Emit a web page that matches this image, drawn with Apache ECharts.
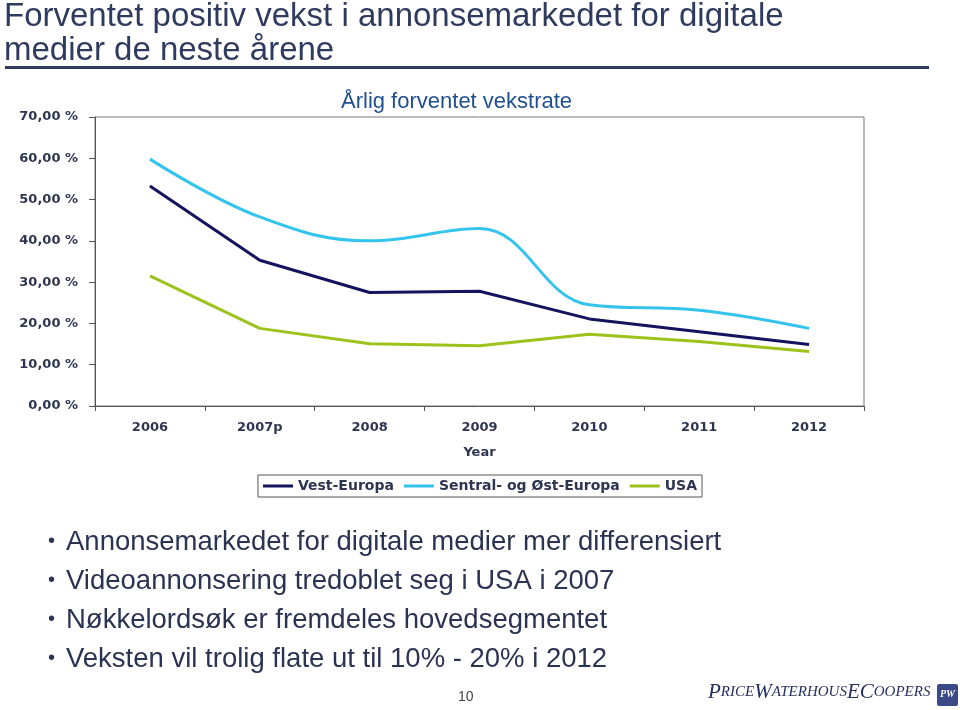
<!DOCTYPE html>
<html>
<head>
<meta charset="utf-8">
<script src="https://cdn.jsdelivr.net/npm/echarts@6/dist/echarts.min.js"></script>
<style>
html,body{margin:0;padding:0;background:#fff;}
#chart{width:960px;height:710px;}
</style>
</head>
<body>
<div id="chart"></div>
<script>
// ---- data ----
const years = ['2006', '2007p', '2008', '2009', '2010', '2011', '2012'];
const vestEuropa = [53.3, 35.3, 27.5, 27.8, 21.1, 18.0, 14.9];
const sentralOstEuropa = [59.8, 45.8, 40.0, 43.0, 24.5, 23.2, 18.8];
const usa = [31.5, 18.8, 15.1, 14.6, 17.4, 15.6, 13.2];
const seriesNames = ['Vest-Europa', 'Sentral- og Øst-Europa', 'USA'];
const yTicks = [0, 10, 20, 30, 40, 50, 60, 70];

const titleLines = ['Forventet positiv vekst i annonsemarkedet for digitale', 'medier de neste årene'];
const chartTitle = 'Årlig forventet vekstrate';
const bullets = [
  'Annonsemarkedet for digitale medier mer differensiert',
  'Videoannonsering tredoblet seg i USA i 2007',
  'Nøkkelordsøk er fremdeles hovedsegmentet',
  'Veksten vil trolig flate ut til 10% - 20% i 2012'
];
const pageNumber = '10';

const chart = echarts.init(document.getElementById('chart'));
const axisFont = 'DejaVu Sans';
const labelColor = '#2e3550';

const graphics = [];
titleLines.forEach((t, i) => {
  graphics.push({type: 'text', left: 4, top: 0 + i * 34, style: {text: t, font: '33px "Liberation Sans", Arial, sans-serif', fill: '#2f3a5f'}});
});
graphics.push({type: 'rect', shape: {x: 5, y: 66, width: 924, height: 3}, style: {fill: '#2f3a5f'}});
bullets.forEach((t, i) => {
  const y = 528 + i * 39.3;
  graphics.push({type: 'text', left: 48, top: y + 3, style: {text: '•', font: '20px "Liberation Sans", Arial, sans-serif', fill: '#2b3352'}});
  graphics.push({type: 'text', left: 66, top: y, style: {text: t, font: '27.5px "Liberation Sans", Arial, sans-serif', fill: '#2b3352'}});
});
graphics.push({type: 'text', left: 458, top: 690, style: {text: pageNumber, font: '14px "Liberation Sans", Arial, sans-serif', fill: '#444'}});
graphics.push({type: 'text', left: 708, top: 682, style: {
  text: '{a|P}{b|RICE}{a|W}{b|ATERHOUS}{a|E}{a|C}{b|OOPERS}',
  rich: {
    a: {font: 'italic 21px "Liberation Serif", serif', fill: '#25305e'},
    b: {font: 'italic 15px "Liberation Serif", serif', fill: '#25305e'}
  }
}});
graphics.push({type: 'rect', shape: {x: 937, y: 684, width: 21, height: 22, r: 2}, style: {fill: '#3a4a86'}});
graphics.push({type: 'text', left: 940, top: 689, style: {text: 'PW', font: 'italic bold 10px "Liberation Serif", serif', fill: '#fff'}});

chart.setOption({
  backgroundColor: '#ffffff',
  animation: false,
  title: {
    text: chartTitle,
    left: 336, top: 86,
    textStyle: {fontFamily: '"Liberation Sans", Arial, sans-serif', fontSize: 22, fontWeight: 'normal', color: '#1f4f8f'}
  },
  grid: {left: 95, right: 96, top: 117, bottom: 304, show: true, borderColor: '#777', borderWidth: 1},
  legend: {
    data: seriesNames,
    left: 'center', top: 475,
    icon: 'rect', itemWidth: 30, itemHeight: 3, itemGap: 10,
    borderColor: '#555', borderWidth: 1, padding: [4, 5, 4, 5],
    textStyle: {fontFamily: axisFont, fontWeight: 'bold', fontSize: 14, color: labelColor}
  },
  xAxis: {
    type: 'category',
    data: years,
    boundaryGap: true,
    name: 'Year', nameLocation: 'middle', nameGap: 40,
    nameTextStyle: {fontFamily: axisFont, fontWeight: 'bold', fontSize: 13, color: labelColor},
    axisLine: {lineStyle: {color: '#555', width: 1}},
    axisTick: {show: true, length: 5, lineStyle: {color: '#555'}},
    axisLabel: {fontFamily: axisFont, fontWeight: 'bold', fontSize: 13, color: labelColor, margin: 15},
    splitLine: {show: false}
  },
  yAxis: {
    type: 'value', min: yTicks[0], max: yTicks[yTicks.length - 1], interval: 10,
    axisLine: {show: true, lineStyle: {color: '#555', width: 1}},
    axisTick: {show: true, length: 6, lineStyle: {color: '#555'}},
    axisLabel: {fontFamily: axisFont, fontWeight: 'bold', fontSize: 13, color: labelColor, margin: 17,
      formatter: v => v.toFixed(2).replace('.', ',') + ' %'},
    splitLine: {show: false}
  },
  series: [
    {name: seriesNames[0], type: 'line', data: vestEuropa, symbol: 'none', lineStyle: {width: 3, color: '#13135e'}, itemStyle: {color: '#13135e'}},
    {name: seriesNames[1], type: 'line', data: sentralOstEuropa, smooth: 0.4, symbol: 'none', lineStyle: {width: 3, color: '#34c3ec'}, itemStyle: {color: '#34c3ec'}},
    {name: seriesNames[2], type: 'line', data: usa, symbol: 'none', lineStyle: {width: 3, color: '#9cc21c'}, itemStyle: {color: '#9cc21c'}}
  ],
  graphic: graphics
});
</script>
</body>
</html>
